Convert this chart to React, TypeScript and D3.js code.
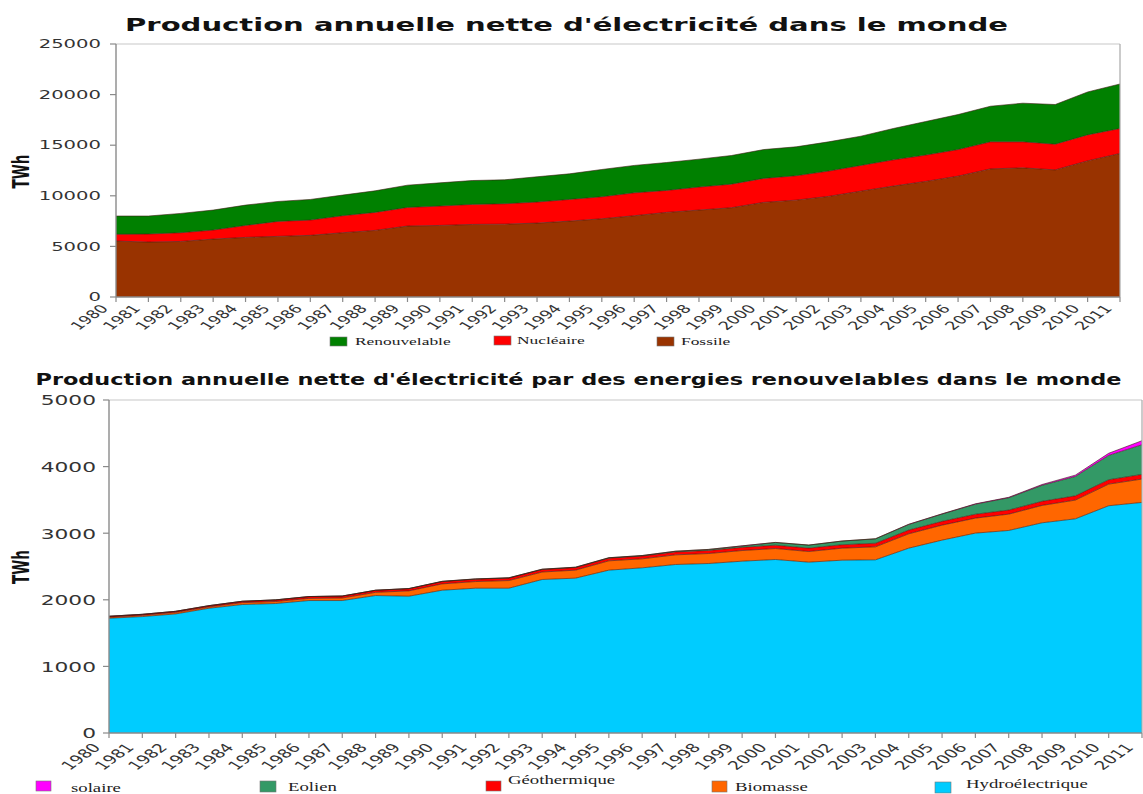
import React from "react";
import * as d3 from "d3";

// ---------- DATA ----------
const years = [1980,1981,1982,1983,1984,1985,1986,1987,1988,1989,1990,1991,1992,1993,1994,1995,1996,1997,1998,1999,2000,2001,2002,2003,2004,2005,2006,2007,2008,2009,2010,2011];

// Chart 1 (TWh)
const fossile = [5530,5430,5490,5720,5890,5990,6090,6350,6580,7010,7070,7170,7200,7300,7500,7730,8030,8360,8590,8820,9350,9570,9940,10460,10960,11420,11940,12660,12760,12560,13450,14180];
const nucleaire = [660,790,860,890,1180,1480,1510,1680,1780,1840,1910,1980,2010,2080,2140,2170,2260,2170,2270,2330,2370,2410,2500,2540,2590,2600,2630,2670,2570,2540,2570,2470];
const renouvelable = [1810,1780,1910,1980,2010,1970,2040,2040,2130,2200,2300,2360,2370,2500,2530,2700,2710,2760,2760,2830,2850,2860,2890,2890,3100,3320,3460,3520,3820,3920,4240,4400];

// Chart 2 (TWh)
const hydro = [1723,1748,1788,1873,1929,1944,1989,1989,2064,2054,2144,2174,2174,2305,2325,2445,2480,2530,2545,2580,2605,2565,2595,2600,2775,2896,3001,3041,3156,3216,3412,3462];
const biomasse = [15,18,22,20,28,30,32,38,48,80,95,100,115,112,120,140,135,145,150,160,165,160,180,195,216,225,225,245,261,281,325,351];
const geothermique = [15,16,17,19,21,24,27,29,31,33,35,36,37,38,39,40,42,44,46,48,50,51,52,54,56,57,59,61,62,64,66,70];
const eolien = [0,0,0,0,0,1,1,1,1,2,3,3,4,4,5,6,7,10,15,21,41,45,55,66,85,110,151,185,240,291,365,446];
const solaire = [0,0,0,0,0,0,0,0,0,0,1,1,1,1,1,1,1,1,1,1,1,1,1,2,2,3,5,7,12,20,32,60];

const ticks1 = [0,5000,10000,15000,20000,25000];
const ticks2 = [0,1000,2000,3000,4000,5000];

const title1 = "Production annuelle nette d'électricité dans le monde";
const title2 = "Production annuelle nette d'électricité par des energies renouvelables dans le monde";

const series1 = [
  { key: "Fossile", values: fossile, color: "#993300" },
  { key: "Nucléaire", values: nucleaire, color: "#ff0000" },
  { key: "Renouvelable", values: renouvelable, color: "#008000" },
];
const series2 = [
  { key: "Hydroélectrique", values: hydro, color: "#00ccff" },
  { key: "Biomasse", values: biomasse, color: "#ff6600" },
  { key: "Géothermique", values: geothermique, color: "#ff0000" },
  { key: "Eolien", values: eolien, color: "#339966" },
  { key: "solaire", values: solaire, color: "#ff00ff" },
];

// ---------- helpers ----------
function T({ x, y, sx = 1, rot = 0, anchor = "start", size, weight = "normal", family = "'DejaVu Sans', sans-serif", fill = "#333", children }: any) {
  const tr = `translate(${x},${y}) scale(${sx},1)` + (rot ? ` rotate(${rot})` : "");
  return (
    <text transform={tr} textAnchor={anchor} fontSize={size} fontWeight={weight} fontFamily={family} fill={fill}>
      {children}
    </text>
  );
}

function StackChart({ series, ticks, yMax, box, title, titleCfg, yLab, xLab, twhY, legend }: any) {
  const { left, right, top, bottom } = box;
  const x = d3.scaleLinear().domain([years[0], years[years.length - 1]]).range([left, right]);
  const y = d3.scaleLinear().domain([0, yMax]).range([bottom, top]);
  const rows = years.map((yr, i) => {
    const r: any = { year: yr };
    series.forEach((s: any) => (r[s.key] = s.values[i]));
    return r;
  });
  const stack = d3.stack().keys(series.map((s: any) => s.key));
  const layers = stack(rows);
  const area = d3.area<any>().x((d) => x(d.data.year)).y0((d) => y(d[0])).y1((d) => y(d[1]));
  const topLine = d3.line<any>().x((d) => x(d.data.year)).y((d) => y(d[1]));
  return (
    <g>
      <T x={titleCfg.x} y={titleCfg.y} sx={titleCfg.sx} anchor="middle" size={titleCfg.size} weight="bold" fill="#111">{title}</T>
      {layers.map((l: any, i: number) => (
        <path key={"a" + i} d={area(l) || ""} fill={series[i].color} stroke="none" />
      ))}
      {layers.map((l: any, i: number) => (
        <path key={"l" + i} d={topLine(l) || ""} fill="none" stroke="#3a1a10" strokeOpacity={0.75} strokeWidth={0.8} />
      ))}
      {/* frame */}
      <line x1={left} x2={right} y1={top} y2={top} stroke="#c8c8c8" strokeWidth={1.2} />
      <line x1={right} x2={right} y1={top} y2={bottom} stroke="#a8a8a8" strokeWidth={1.2} />
      <line x1={left} x2={left} y1={top} y2={bottom} stroke="#8a8a8a" strokeWidth={1.4} />
      <line x1={left} x2={right} y1={bottom} y2={bottom} stroke="#8a8a8a" strokeWidth={1.4} />
      {ticks.map((t: number) => (
        <g key={"yt" + t}>
          <line x1={left - 6} x2={left} y1={y(t)} y2={y(t)} stroke="#8a8a8a" strokeWidth={1.2} />
          <T x={yLab.x} y={y(t) + yLab.dy} sx={yLab.sx} anchor="end" size={yLab.size} fill="#333">{t}</T>
        </g>
      ))}
      {years.map((yr) => (
        <g key={"xt" + yr}>
          <line x1={x(yr)} x2={x(yr)} y1={bottom} y2={bottom + 5} stroke="#8a8a8a" strokeWidth={1.2} />
          <T x={x(yr) + xLab.dx} y={bottom + xLab.dy} sx={xLab.sx} rot={xLab.rot} anchor="end" size={xLab.size} fill="#333">{yr}</T>
        </g>
      ))}
      <T x={twhY.x} y={twhY.y} sx={twhY.sx} rot={-90} anchor="middle" size={twhY.size} weight="bold" fill="#111">TWh</T>
      {legend.items.map((it: any) => {
        const s = series.find((q: any) => q.key === it.key);
        return (
          <g key={"lg" + it.key}>
            <rect x={it.sx} y={it.sy} width={it.sw} height={it.sh} fill={s.color} stroke="#777" strokeWidth={0.6} />
            <T x={it.tx} y={it.ty} sx={legend.tsx} size={legend.size} family="'Liberation Serif', 'DejaVu Serif', serif" fill="#222">{it.key}</T>
          </g>
        );
      })}
    </g>
  );
}

export default function App() {
  return (
    <svg width={1143} height={794} style={{ position: "absolute", left: 0, top: 0, background: "#fff" }}>
      <rect width={1143} height={794} fill="#fff" />
      <StackChart
        series={series1}
        ticks={ticks1}
        yMax={25000}
        box={{ left: 116, right: 1120, top: 44, bottom: 297 }}
        title={title1}
        titleCfg={{ x: 566.5, y: 31, sx: 1.71, size: 17 }}
        yLab={{ x: 101, dy: 4.2, sx: 1.72, size: 11.4 }}
        xLab={{ dx: -7, dy: 12, sx: 1.55, size: 11.5, rot: -48 }}
        twhY={{ x: 28.5, y: 171.5, sx: 1.72, size: 13.6 }}
        legend={{
          tsx: 1.74,
          size: 10,
          items: [
            { key: "Renouvelable", sx: 330, sy: 337, sw: 17, sh: 9, tx: 355, ty: 345 },
            { key: "Nucléaire", sx: 494, sy: 336, sw: 17, sh: 9, tx: 517, ty: 344 },
            { key: "Fossile", sx: 657, sy: 337, sw: 17, sh: 9, tx: 681, ty: 345 },
          ],
        }}
      />
      <StackChart
        series={series2}
        ticks={ticks2}
        yMax={5000}
        box={{ left: 109, right: 1142, top: 400, bottom: 733 }}
        title={title2}
        titleCfg={{ x: 578.5, y: 385, sx: 1.4, size: 16 }}
        yLab={{ x: 96, dy: 5.3, sx: 1.5, size: 14.5 }}
        xLab={{ dx: -7.5, dy: 15, sx: 1.55, size: 12, rot: -48 }}
        twhY={{ x: 28.5, y: 567, sx: 1.72, size: 13.6 }}
        legend={{
          tsx: 1.5,
          size: 12.5,
          items: [
            { key: "solaire", sx: 36, sy: 781, sw: 15, sh: 10, tx: 71, ty: 792 },
            { key: "Eolien", sx: 260, sy: 781, sw: 16, sh: 11, tx: 288, ty: 791 },
            { key: "Géothermique", sx: 486, sy: 781, sw: 15, sh: 10, tx: 508, ty: 784 },
            { key: "Biomasse", sx: 712, sy: 781, sw: 15, sh: 11, tx: 735, ty: 791 },
            { key: "Hydroélectrique", sx: 935, sy: 782, sw: 16, sh: 11, tx: 966, ty: 788 },
          ],
        }}
      />
    </svg>
  );
}
